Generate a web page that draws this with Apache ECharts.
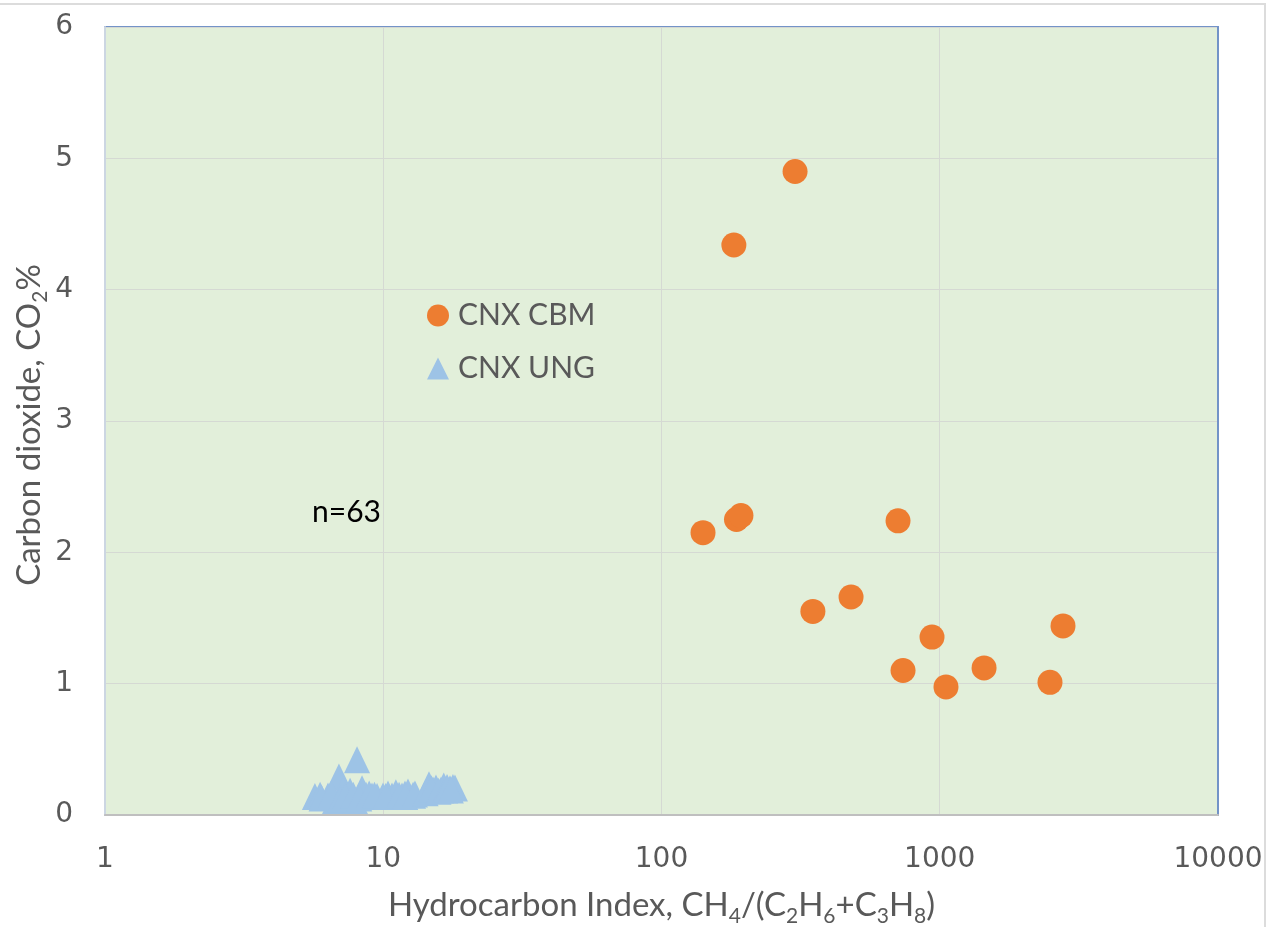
<!DOCTYPE html>
<html>
<head>
<meta charset="utf-8">
<script src="https://cdn.jsdelivr.net/npm/echarts@6/dist/echarts.min.js"></script>
<style>html,body{margin:0;padding:0;background:#fff;}#c{width:1268px;height:927px;}</style>
</head>
<body>
<div id="c"></div>
<script>
// CNX CBM (circles): hydrocarbon index, CO2 %
const cbmX = [302, 182, 141, 186, 193, 708, 350, 480, 938, 738, 1053, 1443, 2490, 2773];
const cbmY = [4.90, 4.34, 2.15, 2.25, 2.28, 2.24, 1.55, 1.66, 1.355, 1.10, 0.975, 1.12, 1.01, 1.44];
// CNX UNG (triangles)
const ungX = [5.68, 5.93, 6.33, 6.71, 6.93, 7.17, 7.47, 7.60, 7.91, 8.05, 8.39, 8.67, 9.11, 9.50, 9.98, 10.4, 10.75, 11.1, 11.68, 11.97, 12.27, 12.8, 14.6, 15.1, 15.47, 16.13, 16.5, 16.95, 17.37, 17.8, 18.1,
              6.0, 6.5, 7.0, 7.3, 7.8, 8.2, 8.9, 9.3, 10.2, 11.4, 12.0, 13.0, 14.2, 14.9, 15.8, 16.7, 17.0, 17.5];
const ungY = [0.14, 0.15, 0.145, 0.11, 0.29, 0.19, 0.11, 0.18, 0.11, 0.42, 0.20, 0.15, 0.145, 0.14, 0.145, 0.16, 0.145, 0.17, 0.145, 0.16, 0.175, 0.15, 0.23, 0.19, 0.205, 0.19, 0.22, 0.21, 0.20, 0.21, 0.205,
              0.13, 0.16, 0.12, 0.14, 0.15, 0.13, 0.16, 0.15, 0.14, 0.15, 0.14, 0.16, 0.17, 0.20, 0.18, 0.19, 0.20, 0.19];
const xTicks = ['1', '10', '100', '1000', '10000'];
const yTicks = ['0', '1', '2', '3', '4', '5', '6'];
const seriesNames = ['CNX CBM', 'CNX UNG'];

const chart = echarts.init(document.getElementById('c'), null, {renderer: 'canvas'});
const pair = (xs, ys) => xs.map((v, i) => [v, ys[i]]);
const tickFont = 'DejaVu Sans';
const textFont = 'Lato';
const gray = '#595959';

chart.setOption({
  animation: false,
  backgroundColor: '#ffffff',
  grid: {left: 105, right: 50, top: 27, bottom: 112, containLabel: false, outerBoundsMode: 'none',
    show: true, backgroundColor: '#e2efda', borderColor: '#7393c8', borderWidth: 2},
  xAxis: {
    type: 'log', logBase: 10, min: 1, max: 10000,
    axisLine: {show: true, lineStyle: {color: '#bfbfbf', width: 2}},
    axisTick: {show: false},
    splitLine: {show: true, lineStyle: {color: '#d5d9d3', width: 1}},
    minorSplitLine: {show: false},
    axisLabel: {color: gray, fontFamily: tickFont, fontSize: 28, margin: 31,
      formatter: v => { const i = Math.round(Math.log10(v)); return xTicks[i] !== undefined ? xTicks[i] : ''; }},
    name: 'Hydrocarbon Index, CH{s|4}/(C{s|2}H{s|6}+C{s|3}H{s|8})',
    nameLocation: 'middle', nameGap: 68,
    nameTextStyle: {color: gray, fontFamily: textFont, fontSize: 33, lineHeight: 44,
      rich: {s: {fontFamily: textFont, fontSize: 21, color: gray, lineHeight: 22, verticalAlign: 'bottom'}}}
  },
  yAxis: [{
    type: 'value', min: 0, max: 6, interval: 1,
    axisLine: {show: true, lineStyle: {color: '#ccd6e2', width: 2}},
    axisTick: {show: false},
    splitLine: {show: true, lineStyle: {color: '#d5d9d3', width: 1}},
    axisLabel: {color: gray, fontFamily: tickFont, fontSize: 28, margin: 32,
      formatter: v => yTicks[Math.round(v)] || ''}
  }, {
    type: 'value', min: 0, max: 6, interval: 1, position: 'right',
    axisLine: {show: true, lineStyle: {color: '#7393c8', width: 2}},
    axisTick: {show: false}, axisLabel: {show: false}, splitLine: {show: false}
  }],
  legend: {
    orient: 'vertical', left: 422, top: 295, itemGap: 22, itemWidth: 22, itemHeight: 22,
    textStyle: {color: gray, fontFamily: textFont, fontSize: 30, lineHeight: 31, padding: [0, 0, 0, 4]},
    data: [{name: seriesNames[0], icon: 'circle'}, {name: seriesNames[1], icon: 'triangle'}]
  },
  graphic: [
    {type: 'rect', shape: {x: -3, y: 4, width: 1268, height: 930}, style: {fill: 'none', stroke: '#dcdcdc', lineWidth: 2}, silent: true},
    {type: 'text', x: 29, y: 425, rotation: Math.PI / 2,
      style: {text: 'Carbon dioxide, CO{s|2}%', fill: gray, font: '33px Lato', lineHeight: 44, align: 'center', verticalAlign: 'middle',
        rich: {s: {fontSize: 21, fontFamily: 'Lato', fill: gray, lineHeight: 22, verticalAlign: 'bottom'}}}},
    {type: 'text', x: 312, y: 497, style: {text: 'n=63', fill: '#000000', font: '30px Lato'}}
  ],
  series: [
    {name: seriesNames[1], type: 'scatter', symbol: 'triangle', symbolSize: [26, 27], data: pair(ungX, ungY),
      itemStyle: {color: '#9dc3e6', opacity: 1}, z: 2},
    {name: seriesNames[0], type: 'scatter', symbol: 'circle', symbolSize: 25, data: pair(cbmX, cbmY),
      itemStyle: {color: '#ed7d31', opacity: 1}, z: 3}
  ]
});
</script>
</body>
</html>
